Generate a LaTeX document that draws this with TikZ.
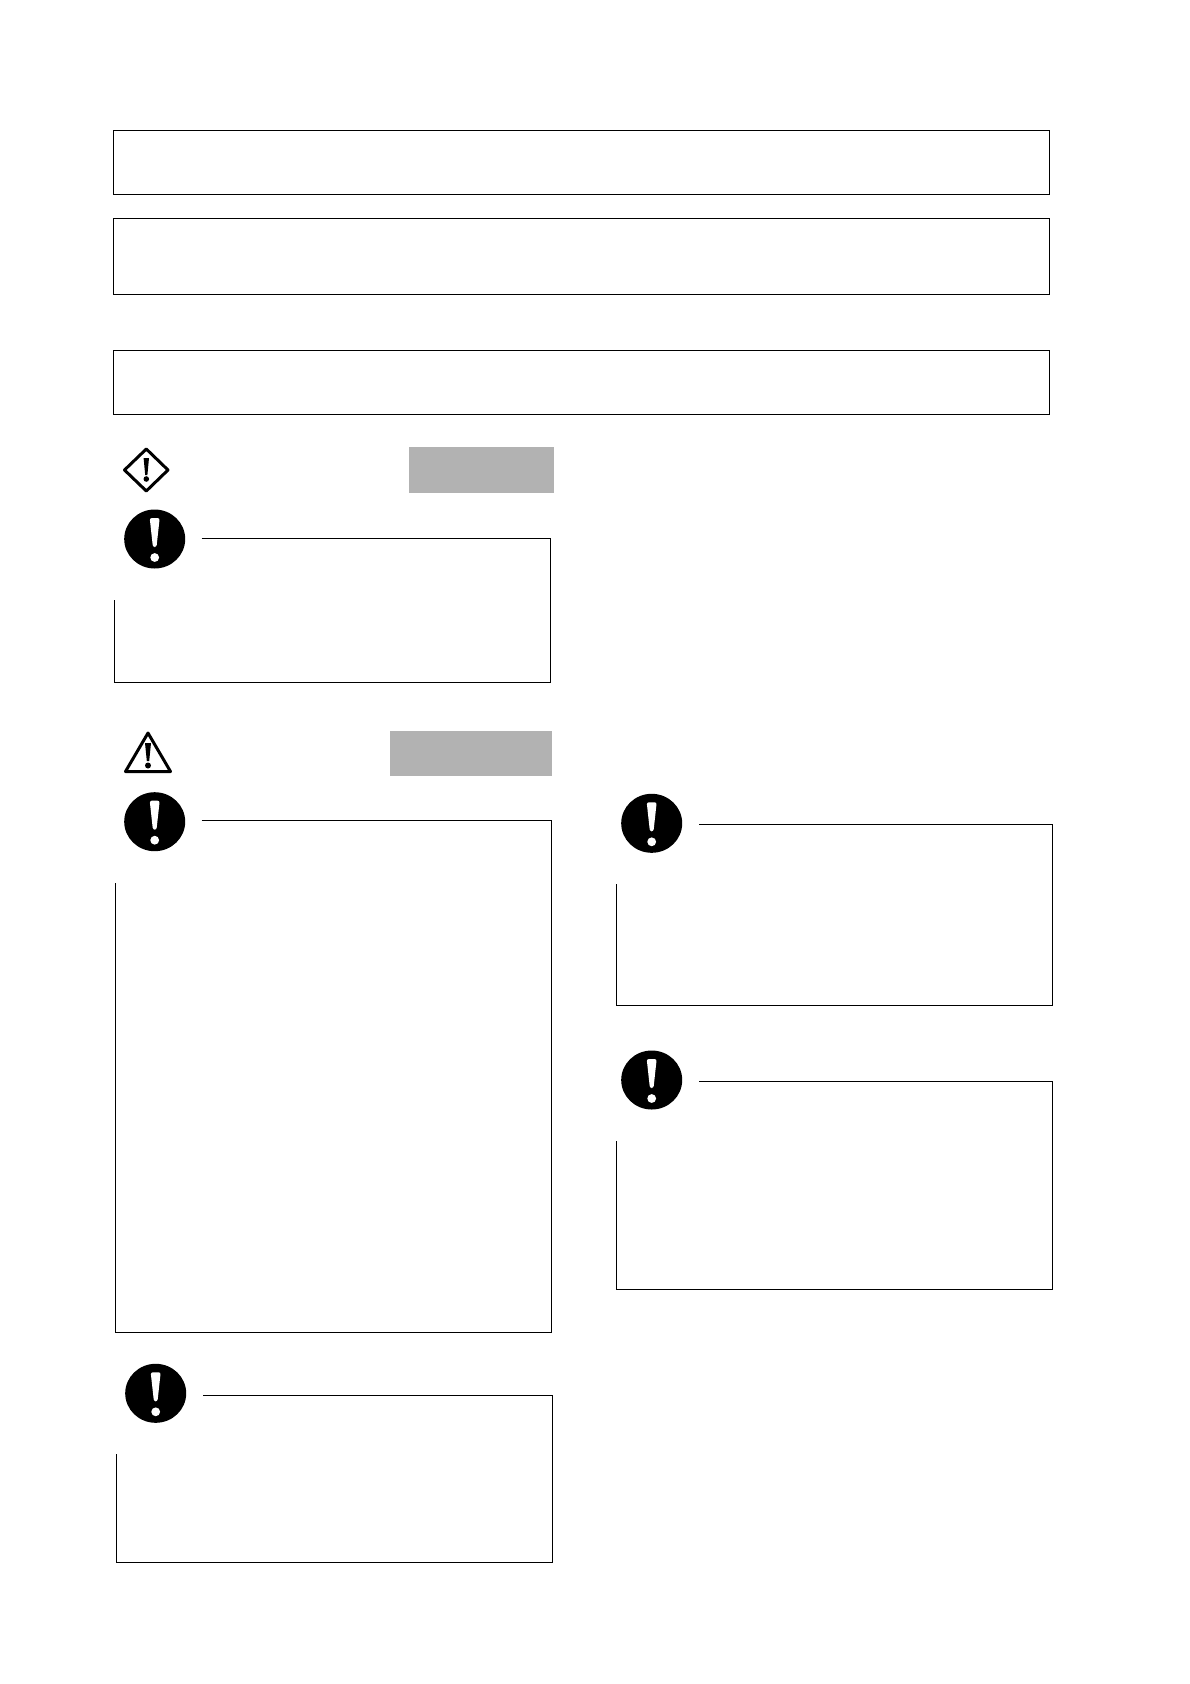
\documentclass[tikz,border=0pt]{standalone}
\definecolor{tabgray}{HTML}{B2B2B2}
\tikzset{
  frameline/.style={black, line width=0.75pt},
  symbolline/.style={black, line width=1.7pt, line join=round},
  graytab/.style={fill=tabgray, draw=none},
}
% Black disc with a white exclamation mark
\newcommand{\roundmark}[2]{
  \begin{scope}[shift={(#1,#2)}]
    \fill[black] (0,0) ellipse [x radius=30.5, y radius=29.5];
    \fill[white, rounded corners=1.2pt] (-5,-21) -- (5,-21) -- (1.8,8) -- (-1.8,8) -- cycle;
    \fill[white] (0,18.5) circle [radius=4.4];
  \end{scope}
}
% Frame whose top left corner is left open: left, start of top, right, top, start of left, bottom
\newcommand{\gapframe}[6]{
  \draw[frameline] (#2,#4) -- (#3,#4) -- (#3,#6) -- (#1,#6) -- (#1,#5);
}

\begin{document}
\begin{tikzpicture}[x=0.02cm, y=-0.02cm]

\fill[white] (0,0) rectangle (1190,1684);
\useasboundingbox (0,0) rectangle (1190,1684);

% Full width boxes at the top
\draw[frameline] (113.5,130.5) rectangle (1049.5,194.5);
\draw[frameline] (113.5,218.5) rectangle (1049.5,294.5);
\draw[frameline] (113.5,350.5) rectangle (1049.5,414.5);

% Diamond symbol
\draw[symbolline] (146.3,449) -- (168,470) -- (146.3,491) -- (124.5,470) -- cycle;
\fill[black] (143.6,458) -- (149,458) -- (147.4,475) -- (145.2,475) -- cycle;
\fill[black] (146.3,479) circle [radius=2.8];
\fill[graytab] (409,447) rectangle (554,493);

% Triangle symbol
\draw[symbolline] (148,733) -- (170.5,771.5) -- (125.5,771.5) -- cycle;
\fill[black] (145,743) -- (151,743) -- (149.2,761) -- (146.8,761) -- cycle;
\fill[black] (148,765.5) circle [radius=3];
\fill[graytab] (390,731) rectangle (552,776);

% Left column
\gapframe{114.5}{201.7}{550.5}{538.5}{600}{682.5}
\roundmark{154.7}{539}

\gapframe{115.5}{201.7}{551.5}{820.5}{883.3}{1332.5}
\roundmark{154.7}{821.7}

\gapframe{116.5}{203}{552.5}{1395.5}{1454.3}{1562.5}
\roundmark{155.7}{1393.3}

% Right column
\gapframe{616.5}{699}{1052.5}{824.5}{884.3}{1005.5}
\roundmark{651.7}{823.3}

\gapframe{616.5}{699}{1052.5}{1081.5}{1141}{1289.5}
\roundmark{651.7}{1080}

\end{tikzpicture}
\end{document}
